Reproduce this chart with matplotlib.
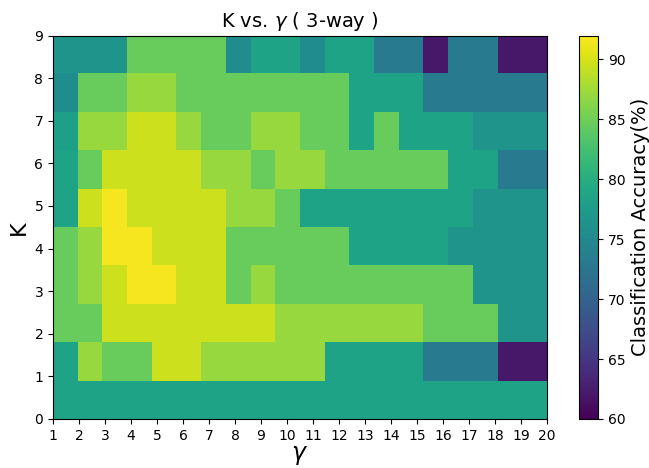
import numpy as np
import matplotlib
matplotlib.use("Agg")
import matplotlib.pyplot as plt

# =========================
# DATA (classification accuracy, %)
# rows: bottom (K=0) -> top (K=9), columns: gamma 1 -> 20
# =========================
gamma_ticks = list(range(1, 21))
k_ticks = list(range(0, 10))

row0 = [78.5] * 20
row1 = [78.5, 87, 84.5, 84.5, 89.5, 89.5, 87, 87, 87, 87, 87, 78.5, 78.5, 78.5, 78.5, 73, 73, 73, 62, 62]
row2 = [84.5, 84.5, 89.5, 89.5, 89.5, 89.5, 89.5, 89.5, 89.5, 87, 87, 87, 87, 87, 87, 84.5, 84.5, 84.5, 76.5, 76.5]
row3 = [84.5, 87, 89.5, 91.5, 91.5, 89.5, 89.5, 84.5, 87, 84.5, 84.5, 84.5, 84.5, 84.5, 84.5, 84.5, 84.5, 76.5, 76.5, 76.5]
row4 = [84.5, 87, 91.5, 91.5, 89.5, 89.5, 89.5, 84.5, 84.5, 84.5, 84.5, 84.5, 78.5, 78.5, 78.5, 78.5, 76.5, 76.5, 76.5, 76.5]
row5 = [78.5, 89.5, 91.5, 89.5, 89.5, 89.5, 89.5, 87, 87, 84.5, 78.5, 78.5, 78.5, 78.5, 78.5, 78.5, 78.5, 76.5, 76.5, 76.5]
row6 = [78.5, 84.5, 89.5, 89.5, 89.5, 89.5, 87, 87, 84.5, 87, 87, 84.5, 84.5, 84.5, 84.5, 84.5, 78.5, 78.5, 73, 73]
row7 = [78, 87, 87, 89.5, 89.5, 87, 84.5, 84.5, 87, 87, 84.5, 84.5, 78.5, 84.5, 78.5, 78.5, 78.5, 76.5, 76.5, 76.5]
row8 = [75.5, 84.5, 84.5, 87, 87, 84.5, 84.5, 84.5, 84.5, 84.5, 84.5, 84.5, 78.5, 78.5, 78.5, 73, 73, 73, 73, 73]
row9 = [76.5, 76.5, 76.5, 84.5, 84.5, 84.5, 84.5, 75.5, 78.5, 78.5, 75.5, 78.5, 78.5, 73, 73, 62, 73, 73, 62, 62]

acc = np.array([row0, row1, row2, row3, row4, row5, row6, row7, row8, row9])
cbar_ticks = [60, 65, 70, 75, 80, 85, 90]

# =========================
# PLOT
# =========================
fig = plt.figure(figsize=(6.49, 4.68), dpi=100)
ax = fig.add_axes([53 / 649, 49 / 468, 494 / 649, 383.5 / 468])
cax = fig.add_axes([579 / 649, 49 / 468, 19 / 649, 383.5 / 468])

im = ax.imshow(acc, origin="lower", extent=[1, 20, 0, 9], aspect="auto",
               cmap="viridis", vmin=60, vmax=92, interpolation="nearest")

ax.set_xticks(gamma_ticks)
ax.set_yticks(k_ticks)
ax.tick_params(labelsize=10)
ax.set_xlabel(r"$\gamma$", fontsize=17, labelpad=0)
ax.set_ylabel("K", fontsize=16)
ax.set_title(r"K vs. $\gamma$ ( 3-way )", fontsize=14)

cb = fig.colorbar(im, cax=cax, ticks=cbar_ticks)
cb.ax.tick_params(labelsize=10)
cb.set_label("Classification Accuracy(%)", fontsize=14, labelpad=4)

fig.savefig("out.png", dpi=100)
